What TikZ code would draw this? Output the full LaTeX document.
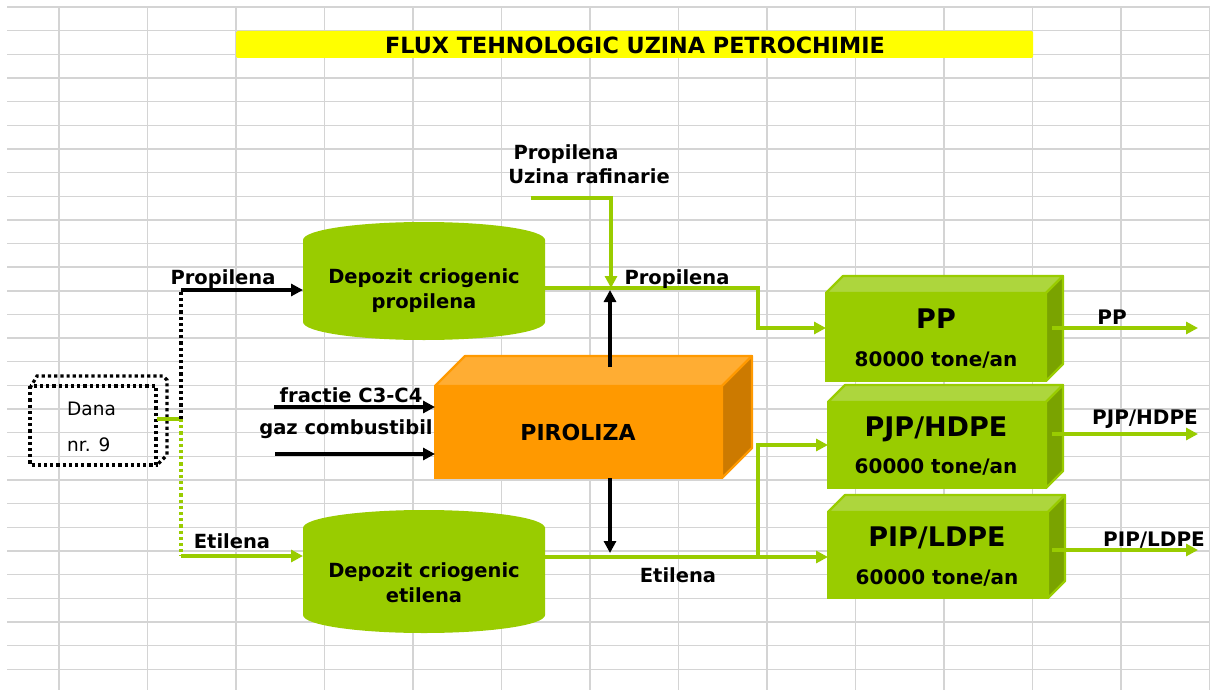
\documentclass[tikz,border=0pt]{standalone}
\usepackage{fontspec}
\setmainfont{DejaVu Sans}
\usetikzlibrary{arrows.meta}

\definecolor{grn}{HTML}{99CC00}
\definecolor{grnTop}{HTML}{ADD63D}
\definecolor{grnSide}{HTML}{7AA300}
\definecolor{org}{HTML}{FF9900}
\definecolor{orgTop}{HTML}{FFAD33}
\definecolor{orgSide}{HTML}{CC7A00}
\definecolor{gridc}{HTML}{D4D4D4}
\definecolor{yel}{HTML}{FFFF00}

% 3D slab: front face (x1,y1)-(x2,y2), depth d, colours front/top/side
\newcommand{\slab}[8]{%
  \filldraw[fill=#7, draw=#6, line width=2.2pt, line join=round]
    (#1,#2) -- ({#1+#5},{#2-#5}) -- ({#3+#5},{#2-#5}) -- (#3,#2) -- cycle;
  \filldraw[fill=#8, draw=#6, line width=2.2pt, line join=round]
    (#3,#2) -- ({#3+#5},{#2-#5}) -- ({#3+#5},{#4-#5}) -- (#3,#4) -- cycle;
  \filldraw[fill=#6, draw=#6, line width=1.5pt] (#1,#2) rectangle (#3,#4);}

% storage tank: centre x, top peak y, bottom peak y
\newcommand{\tank}[3]{%
  \fill[grn] ({#1-121},{#2+18})
    .. controls ({#1-121},{#2+8}) and ({#1-66.8},#2) .. (#1,#2)
    .. controls ({#1+66.8},#2) and ({#1+121},{#2+8}) .. ({#1+121},{#2+18})
    -- ({#1+121},{#3-18})
    .. controls ({#1+121},{#3-8}) and ({#1+66.8},#3) .. (#1,#3)
    .. controls ({#1-66.8},#3) and ({#1-121},{#3-8}) .. ({#1-121},{#3-18})
    -- cycle;}

\begin{document}
\begin{tikzpicture}[x=1pt, y=-1pt,
  gridline/.style={gridc, line width=1.4pt},
  tip/.style={-{Triangle[length=12pt,width=12pt]}},
  gline/.style={grn, line width=3.6pt},
  bline/.style={black, line width=3.6pt},
  dots/.style={line width=3.2pt, dash pattern=on 3.2pt off 3pt},
  lbl/.style={font=\fontsize{19.5}{23}\selectfont\bfseries, inner sep=0, anchor=base},
  ttl/.style={font=\fontsize{22.3}{26}\selectfont\bfseries, inner sep=0, anchor=base},
  big/.style={font=\fontsize{27}{30}\selectfont\bfseries, inner sep=0, anchor=base},
  capt/.style={font=\fontsize{20}{24}\selectfont\bfseries, inner sep=0, anchor=base},
  outl/.style={font=\fontsize{20}{24}\selectfont\bfseries, inner sep=0, anchor=base},
  plain/.style={font=\fontsize{18.5}{22}\selectfont, inner sep=0, anchor=base west}]

\useasboundingbox (0,0) rectangle (1215,690);
\fill[white] (0,0) rectangle (1215,690);

% spreadsheet grid
\foreach \k in {0,...,28}
  \draw[gridline] (7,{7+23.65*\k}) -- (1210,{7+23.65*\k});
\foreach \i in {0,...,13}
  \draw[gridline] ({59+88.5*\i},7) -- ({59+88.5*\i},690);

% heading
\fill[yel, rounded corners=1.5pt] (236,31) rectangle (1033,58);
\node[ttl] (title) at (635,54) {FLUX TEHNOLOGIC UZINA PETROCHIMIE};

% tanks
\tank{424}{222}{340}
\tank{424}{510}{633}
\node[lbl] (tankP1) at (424,283) {Depozit criogenic};
\node[lbl] (tankP2) at (424,308) {propilena};
\node[lbl] (tankE1) at (424,577) {Depozit criogenic};
\node[lbl] (tankE2) at (424,602) {etilena};

% pyrolysis unit
\slab{435}{386}{722}{478}{30}{org}{orgTop}{orgSide}
\node[font=\fontsize{22}{26}\selectfont\bfseries, inner sep=0, anchor=base] (piro) at (578,440) {PIROLIZA};

% polymer plants
\slab{826}{293}{1046}{381}{17}{grn}{grnTop}{grnSide}
\slab{828}{402}{1046}{488}{17}{grn}{grnTop}{grnSide}
\slab{828}{512}{1048}{598}{17}{grn}{grnTop}{grnSide}
\node[big] (pp) at (936,328) {PP};
\node[capt] (ppcap) at (936,366) {80000 tone/an};
\node[big] (pjp) at (936,436) {PJP/HDPE};
\node[capt] (pjpcap) at (936,473) {60000 tone/an};
\node[big] (pip) at (937,546) {PIP/LDPE};
\node[capt] (pipcap) at (937,584) {60000 tone/an};

% berth
\draw[dots] (30,386) rectangle (156,465);
\draw[dots] (30,388) -- (37,376) -- (163,376) -- (167,380) -- (167,455) -- (157,465);
\node[plain] (dana1) at (67,415) {Dana};
\node[plain] (dana2) at (67,451) {nr. 9};

% ports
\coordinate (dana-out) at (157,419);
\coordinate (split) at (181,419);
\coordinate (splitP) at (181,290);
\coordinate (splitE) at (181,556);
\coordinate (tankP-in) at (303,290);
\coordinate (tankE-in) at (303,556);
\coordinate (tankP-out) at (545,288);
\coordinate (tankE-out) at (545,557);
\coordinate (jogP) at (758,300);
\coordinate (branch) at (758,557);
\coordinate (pp-in) at (826,328);
\coordinate (pjp-in) at (828,445);
\coordinate (pip-in) at (828,557);
\coordinate (ref-src) at (531,198);
\coordinate (ref-drop) at (611,288);
\coordinate (piro-top) at (610,367);
\coordinate (piro-bot) at (610,478);
\coordinate (junctP) at (610,290);
\coordinate (junctE) at (610,553);
\coordinate (src1) at (274,407);
\coordinate (src2) at (275,454);
\coordinate (piro-in1) at (435,407);
\coordinate (piro-in2) at (435,454);
\coordinate (pp-out) at (1052,328);
\coordinate (pp-end) at (1198,328);
\coordinate (pjp-out) at (1052,434);
\coordinate (pjp-end) at (1198,434);
\coordinate (pip-out) at (1052,550);
\coordinate (pip-end) at (1198,550);

% feed from the berth
\draw[gline] (dana-out) -- (split);
\draw[dots, black] (split) -- (splitP);
\draw[bline, tip] (splitP) -- (tankP-in);
\draw[dots, grn] (split) -- (splitE);
\draw[gline, tip] (splitE) -- (tankE-in);

% propylene route
\draw[gline, tip] (ref-src) -| (ref-drop);
\draw[gline, tip] (tankP-out) -| (jogP) |- (pp-in);
\draw[bline, tip] (piro-top) -- (junctP);

% ethylene route
\draw[gline, tip] (tankE-out) -- (pip-in);
\draw[gline, tip] (branch) |- (pjp-in);
\draw[bline, tip] (piro-bot) -- (junctE);

% pyrolysis feeds
\draw[bline, tip] (src1) -- (piro-in1);
\draw[bline, tip] (src2) -- (piro-in2);

% products
\draw[gline, tip] (pp-out) -- (pp-end);
\draw[gline, tip] (pjp-out) -- (pjp-end);
\draw[gline, tip] (pip-out) -- (pip-end);

% labels
\node[lbl] (lPropL) at (223,284) {Propilena};
\node[lbl] (lEtiL) at (232,548) {Etilena};
\node[lbl] (lRef1) at (566,159) {Propilena};
\node[lbl] (lRef2) at (589,183) {Uzina rafinarie};
\node[lbl] (lPropR) at (677,284) {Propilena};
\node[lbl] (lEtiR) at (678,582) {Etilena};
\node[lbl] (lC3) at (351,402) {fractie C3-C4};
\node[lbl] (lGaz) at (346,434) {gaz combustibil};
\node[outl] (oPP) at (1112,324) {PP};
\node[outl] (oPJP) at (1145,424) {PJP/HDPE};
\node[outl] (oPIP) at (1154,546) {PIP/LDPE};

\end{tikzpicture}
\end{document}
